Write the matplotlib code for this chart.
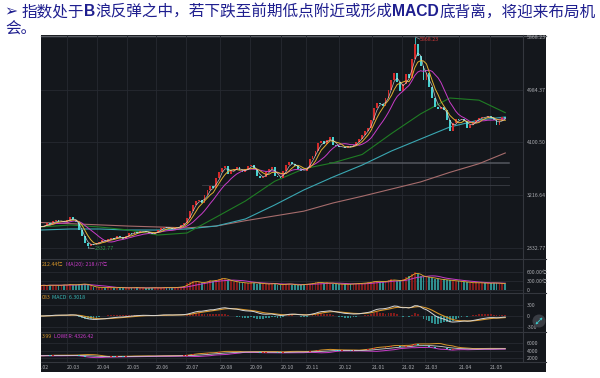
import numpy as np
import pandas as pd
import matplotlib
matplotlib.use('Agg')
import matplotlib.pyplot as plt
from matplotlib.patches import Rectangle, Circle

plt.rcParams['font.family'] = ['Noto Sans CJK SC', 'DejaVu Sans']

# ---------------- data ----------------
title_line1 = [("➢ ", False), ("指数处于", False), ("B", True),
               ("浪反弹之中，若下跌至前期低点附近或形成", False),
               ("MACD", True), ("底背离，将迎来布局机", False)]
title_line2 = "会。"

month_labels = ['20.02', '20.03', '20.04', '20.05', '20.06', '20.07', '20.08', '20.09',
                '20.10', '20.11', '20.12', '21.01', '21.02', '21.03', '21.04', '21.05']
month_start_idx = [-1.7, 8.9, 19.2, 29.5, 39.4, 49.7, 61.3, 71.6,
                   82.2, 90.8, 102.1, 113.4, 123.6, 131.5, 143.2, 153.8]

closes = [
    2690, 2700, 2750, 2730, 2780, 2800, 2770, 2790, 2760, 2800,
    2850, 2810, 2760, 2640, 2530, 2420, 2370, 2400, 2390, 2420,
    2440, 2460, 2450, 2480, 2500, 2490, 2530, 2510, 2480, 2540,
    2580, 2570, 2600, 2590, 2610, 2620, 2600, 2580, 2560, 2590,
    2630, 2660, 2690, 2670, 2660, 2650, 2680, 2690, 2720, 2750,
    2830, 2950, 3050, 3120, 3140, 3090, 3220, 3300, 3370, 3330,
    3500, 3600, 3680, 3700, 3580, 3620, 3650, 3690, 3640, 3600,
    3650, 3700, 3730, 3660, 3540, 3510, 3520, 3600, 3660, 3690,
    3540, 3520, 3510, 3620, 3720, 3770, 3740, 3700, 3660, 3630,
    3620, 3680, 3820, 3870, 3960, 4100, 4120, 4080, 4150, 4200,
    4060, 4040, 4020, 4030, 4010, 4040, 4020, 4060, 4110, 4160,
    4230, 4290, 4350, 4470, 4680, 4760, 4740, 4720, 4850, 4980,
    5150, 5260, 5120, 4960, 5080, 5250, 5180, 5500, 5750, 5550,
    5380, 5150, 5260, 5030, 4850, 4700, 4660, 4700, 4640, 4480,
    4300, 4420, 4490, 4470, 4500, 4460, 4340, 4400, 4450, 4480,
    4510, 4530, 4520, 4550, 4510, 4470, 4400, 4460, 4530, 4500,
]

volumes = [
    150, 165, 140, 175, 160, 145, 170, 155, 180, 165, 190, 170, 160,
    200, 210, 185, 170,
    120, 100, 90, 85, 80, 75, 85, 70, 80, 75, 90, 70, 65, 75, 80, 70, 85, 65, 70, 60,
    75, 80, 70, 65, 75, 85, 80, 70, 75, 90, 95, 110, 130,
    220, 260, 300, 280, 250, 230, 270, 300, 320, 290, 340, 380, 400,
    360, 320, 300, 280, 260, 250, 240, 230, 220, 260, 240, 210, 230, 200, 190, 210,
    220, 200, 180, 170, 190, 210, 200, 180, 170, 160, 175,
    200, 190, 210, 230, 250, 260, 240, 220, 250, 230, 210, 200, 190, 195, 185, 190,
    200, 210, 215, 220, 230, 235,
    250, 270, 300, 290, 280, 270, 300, 320, 350, 330, 300, 320, 350,
    420, 480, 540, 600, 520, 460, 430,
    440, 420, 400, 380, 360, 340, 350, 330, 320, 300, 310, 290, 280, 270,
    260, 240, 230, 250, 240, 230, 220, 235, 225, 240, 230, 215, 220, 212,
]

long_ma_idx = [0, 10, 20, 30, 40, 50, 60, 70, 80, 90, 100, 110, 120, 130, 140, 150, 159]
ma60_vals = [2685, 2718, 2685, 2634, 2550, 2584, 2850, 3120, 3450, 3660, 3760, 3900,
             4250, 4580, 4846, 4810, 4600]
ma120_vals = [2634, 2651, 2651, 2634, 2634, 2651, 2701, 2819, 3053, 3305, 3522, 3723,
              3958, 4159, 4360, 4477, 4528]
ma250_vals = [2760, 2740, 2720, 2700, 2685, 2670, 2700, 2790, 2870, 2950, 3087, 3200,
              3320, 3440, 3600, 3745, 3925]

peak_high = 5868.23
trough_low = 2332.77

price_ticks = [2332.77, 3216.64, 4100.50, 4984.37, 5868.23]
vol_ticks = [0, 300, 600]
vol_tick_labels = ['0', '300.00亿', '600.00亿']
macd_ticks = [-300, 0, 300]
boll_ticks = [2000, 4000, 6000]

support_levels = [3757, 3522, 3388]
support_start_idx = [99, 99, 55]

vol_label = ['212.44亿', 'MA(20): 218.67亿']
macd_label = ['083', 'MACD: 6.3018']
boll_label = ['3.99', 'LOWER: 4326.42']

# ---------------- style ----------------
W, H = 600, 378
BG = '#14171c'
GRID = '#262a31'
SEP = '#34373e'
LABEL = '#a9abb0'
UP = '#d42a2a'
DOWN = '#48d1d1'
UP_V = '#821c1c'
DOWN_V = '#2f8e8e'
C_MA5 = '#e6e6e6'
C_MA10 = '#e0b030'
C_MA20 = '#c93cc9'
C_MA60 = '#1f7d24'
C_MA120 = '#3aa7b2'
C_MA250 = '#a66c6c'
NAVY = '#1f1f8f'
ORANGE = '#d8962a'
MAGENTA = '#c93cc9'
TS = 3.8

fig = plt.figure(figsize=(6, 3.78), dpi=100)
fig.patch.set_facecolor('white')


def px_axes(x0, y0, x1, y1):
    a = fig.add_axes([x0 / W, 1 - y1 / H, (x1 - x0) / W, (y1 - y0) / H])
    a.set_facecolor('none')
    for sp in a.spines.values():
        sp.set_visible(False)
    return a


bg = fig.add_axes([0, 0, 1, 1])
bg.set_xlim(0, W)
bg.set_ylim(H, 0)
bg.axis('off')
bg.add_patch(Rectangle((41, 35), 505, 337, facecolor=BG, edgecolor='none'))
bg.plot([41, 546], [35.5, 35.5], color='#5d6066', lw=0.9)
for yy in [259, 293, 332, 362]:
    bg.plot([41, 546], [yy, yy], color=SEP, lw=0.8)
bg.plot([523, 523], [35, 362], color=SEP, lw=0.8)

idx = np.arange(len(closes))
c = np.array(closes, dtype=float)
o = np.r_[c[0], c[:-1]]
up = c >= o
body_lo = np.minimum(o, c)
body_h = np.maximum(np.abs(c - o), 10)
s = pd.Series(c)
XR = (0, 482 / 2.92)


def setup(a, ticks, labels, ylim):
    a.set_xlim(*XR)
    a.set_ylim(*ylim)
    a.set_xticks([])
    a.yaxis.tick_right()
    a.set_yticks(ticks)
    a.set_yticklabels(labels)
    a.tick_params(axis='y', length=0, pad=2.5, labelsize=TS, labelcolor=LABEL)
    for t in ticks:
        a.axhline(t, color=GRID, lw=0.6, zorder=0)
    for m in month_start_idx:
        a.axvline(m, color=GRID, lw=0.6, zorder=0)


# ---- main price panel ----
ax = px_axes(41, 35, 523, 259)
setup(ax, price_ticks, ['%.2f' % v for v in price_ticks], (2148.3, 5901.7))
for lvl, st, lw, col in zip(support_levels, support_start_idx, [1.1, 0.6, 0.6],
                           ['#55585f', '#3b3e45', '#3b3e45']):
    ax.plot([st, XR[1] * 0.97], [lvl, lvl], color=col, lw=lw, zorder=1)
ax.plot(long_ma_idx, ma250_vals, color=C_MA250, lw=0.8, zorder=2)
ax.plot(long_ma_idx, ma120_vals, color=C_MA120, lw=0.8, zorder=2)
ax.plot(long_ma_idx, ma60_vals, color=C_MA60, lw=0.8, zorder=2)
ax.bar(idx, body_h, bottom=body_lo, width=0.62,
       color=np.where(up, UP, DOWN), linewidth=0, zorder=3)
pk = int(np.argmax(c))
tr = int(np.argmin(c))
ax.vlines([pk], c[pk], peak_high, color=DOWN, lw=0.6, zorder=3)
ax.vlines([tr], trough_low, c[tr], color=DOWN, lw=0.6, zorder=3)
ax.plot(idx, s.rolling(10, min_periods=1).mean(), color=C_MA20, lw=0.7, zorder=4)
ax.plot(idx, s.rolling(5, min_periods=1).mean(), color=C_MA10, lw=0.7, zorder=4)
ax.plot(idx, s.rolling(3, min_periods=1).mean(), color=C_MA5, lw=0.5, alpha=0.8, zorder=4)
ax.plot([pk + 0.2, pk + 1.7], [peak_high, peak_high - 35], color='#8a8d92', lw=0.5, zorder=5)
ax.text(pk + 1.9, peak_high - 45, '%.2f' % peak_high, color='#d23a3a', fontsize=TS,
        va='center', ha='left', zorder=5)
ax.plot([tr + 0.2, tr + 2.2], [trough_low, trough_low - 10], color='#8a8d92', lw=0.5, zorder=5)
ax.text(tr + 2.4, trough_low - 15, '%.2f' % trough_low, color='#2f9a4c', fontsize=TS,
        va='center', ha='left', zorder=5)

# ---- volume panel ----
av = px_axes(41, 259, 523, 293)
setup(av, vol_ticks, vol_tick_labels, (-100, 1033))
v = pd.Series(np.array(volumes, dtype=float))
av.bar(idx, v, width=0.62, color=np.where(up, UP_V, DOWN_V), linewidth=0, zorder=2)
av.plot(idx, v.rolling(10, min_periods=1).mean(), color=MAGENTA, lw=0.7, zorder=3)
av.plot(idx, v.rolling(3, min_periods=1).mean(), color=C_MA10, lw=0.6, zorder=3)

# ---- MACD panel ----
am = px_axes(41, 293, 523, 332)
setup(am, macd_ticks, ['%d' % t for t in macd_ticks], (-436, 627))
dif = s.ewm(span=8, adjust=False).mean() - s.ewm(span=17, adjust=False).mean()
dea = dif.ewm(span=6, adjust=False).mean()
hist = 2 * (dif - dea)
am.bar(idx, hist, width=0.62, color=np.where(hist >= 0, UP_V, DOWN_V), linewidth=0, zorder=2)
am.plot(idx, dea, color=ORANGE, lw=0.8, zorder=3)
am.plot(idx, dif, color='#d6d6d6', lw=0.7, zorder=3)

# ---- BOLL panel ----
ab = px_axes(41, 332, 523, 362)
setup(ab, boll_ticks, ['%d' % t for t in boll_ticks], (1065, 8857))
mid = s.rolling(10, min_periods=1).mean()
sd = s.rolling(10, min_periods=1).std(ddof=0).fillna(0)
ab.plot(idx, mid + 2 * sd, color=ORANGE, lw=0.7, zorder=3)
ab.plot(idx, mid - 2 * sd, color=MAGENTA, lw=0.7, zorder=3)
ab.plot(idx, mid, color='#cfcfcf', lw=0.6, zorder=3)
ab.bar(idx, np.maximum(np.abs(c - o), 40), bottom=body_lo, width=0.62,
       color=np.where(up, UP, DOWN), linewidth=0, zorder=4)

# ---- date axis ----
ad = px_axes(41, 362, 523, 372)
ad.set_xlim(*XR)
ad.set_ylim(0, 1)
ad.set_xticks([])
ad.set_yticks([])
for m, lab in zip(month_start_idx, month_labels):
    ad.text(m, 0.45, lab, fontsize=TS, color=LABEL, ha='left', va='center', clip_on=True)

# ---- panel captions ----
bg.text(41.5, 264, vol_label[0], color=ORANGE, fontsize=TS, va='center', ha='left')
bg.text(66, 264, vol_label[1], color=MAGENTA, fontsize=TS, va='center', ha='left')
bg.text(41.5, 297.5, macd_label[0], color=ORANGE, fontsize=TS, va='center', ha='left')
bg.text(52, 297.5, macd_label[1], color='#3ab8b8', fontsize=TS, va='center', ha='left')
bg.text(41.5, 336, boll_label[0], color=ORANGE, fontsize=TS, va='center', ha='left')
bg.text(54, 336, boll_label[1], color=MAGENTA, fontsize=TS, va='center', ha='left')

# ---- overlay: icon + title ----
ov = fig.add_axes([0, 0, 1, 1])
ov.set_xlim(0, W)
ov.set_ylim(H, 0)
ov.axis('off')
ov.set_facecolor('none')
ov.add_patch(Circle((539, 321), 6.5, facecolor='#3a3d44', edgecolor='none'))
ov.annotate('', xy=(542.5, 317.5), xytext=(535.5, 324.5),
            arrowprops=dict(arrowstyle='<->', color='#3cc8c8', lw=0.6,
                            mutation_scale=3, shrinkA=0, shrinkB=0))

FS = 11.25
renderer = fig.canvas.get_renderer()
x = 5.0
for txt, bold in title_line1:
    fam = ['Liberation Sans', 'DejaVu Sans'] if bold else ['Noto Sans CJK SC', 'DejaVu Sans']
    t = ov.text(x, 12, txt, fontsize=FS, color=NAVY, va='center', ha='left',
                fontweight='bold' if bold else 'normal', family=fam)
    bb = t.get_window_extent(renderer)
    x += bb.width
ov.text(5, 29, title_line2, fontsize=FS, color=NAVY, va='center', ha='left',
        family=['Noto Sans CJK SC', 'DejaVu Sans'])

fig.savefig('out.png', dpi=100, facecolor='white')
